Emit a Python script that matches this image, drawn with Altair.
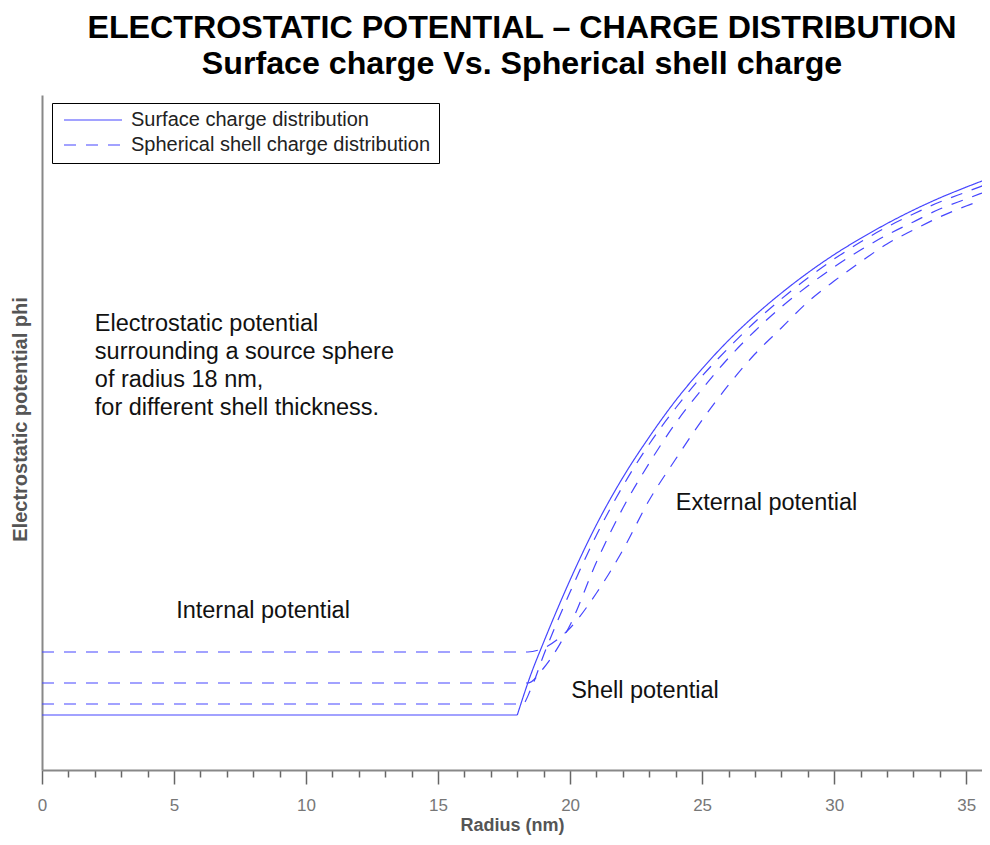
import altair as alt
import pandas as pd

FONT = "Liberation Sans"
BLUE = "#4646ff"
LABEL_SURF = "Surface charge distribution"
LABEL_SHELL = "Spherical shell charge distribution"

# Surface charge (solid): internal flat part and external part
r_surface_in = [0, 18]
phi_surface_in = [8.15, 8.15]
r_surface_out = [18, 18.5, 19, 20, 21, 22, 23, 24, 25, 26, 27, 28, 29, 30, 31, 32, 33, 34, 35, 36]
phi_surface_out = [8.15, 14.0, 18.95, 28.15, 36.35, 43.35, 49.35, 54.75, 59.45, 63.65, 67.35,
                   70.65, 73.65, 76.35, 78.75, 80.95, 82.95, 84.75, 86.35, 87.85]

# Spherical shell charge (dashed), three shell thicknesses
r_shell_a = [0, 18.2, 18.5, 19, 20, 21, 22, 23, 24, 25, 26, 27, 28, 29, 30, 31, 32, 33, 34, 35, 36]
phi_shell_a = [9.78, 9.78, 11.85, 17.04, 26.37, 34.81, 42.07, 48.30, 53.63, 58.37, 62.52, 66.37,
               69.78, 72.89, 75.70, 78.22, 80.44, 82.37, 84.15, 85.63, 87.11]
r_shell_b = [0, 18.4, 19, 20, 21, 22, 23, 24, 25, 26, 27, 28, 29, 30, 31, 32, 33, 34, 35, 36]
phi_shell_b = [12.89, 12.89, 15.11, 21.48, 30.81, 38.81, 45.48, 51.41, 56.44, 61.04, 65.04,
               68.59, 71.70, 74.52, 77.04, 79.26, 81.19, 83.11, 84.59, 86.07]
r_shell_c = [0, 18.4, 19, 20, 21, 22, 23, 24, 25, 26, 27, 28, 29, 30, 31, 32, 33, 34, 35, 36]
phi_shell_c = [17.48, 17.48, 18.07, 21.04, 26.22, 32.59, 40.00, 46.07, 51.85, 57.04, 61.63,
               65.48, 69.33, 72.44, 75.26, 77.93, 80.00, 81.93, 83.56, 84.89]

rows = []
def add(key, dist, rs, ps):
    for r, p in zip(rs, ps):
        rows.append({"key": key, "dist": dist, "r": r, "phi": p})

add("surf_in", LABEL_SURF, r_surface_in, phi_surface_in)
add("surf_out", LABEL_SURF, r_surface_out, phi_surface_out)
add("shell_a", LABEL_SHELL, r_shell_a, phi_shell_a)
add("shell_b", LABEL_SHELL, r_shell_b, phi_shell_b)
add("shell_c", LABEL_SHELL, r_shell_c, phi_shell_c)
df = pd.DataFrame(rows)

ann_text = ["Internal potential", "External potential", "Shell potential"]
ann_r = [5.08, 24.0, 20.04]
ann_phi = [22.5, 38.5, 10.7]
ann_df = pd.DataFrame({"text": ann_text, "r": ann_r, "phi": ann_phi})

note_text = ["Electrostatic potential\nsurrounding a source sphere\nof radius 18 nm,\nfor different shell thickness."]
note_df = pd.DataFrame({"text": note_text, "r": [2.0], "phi": [65.0]})

# visible part of the radius axis (the plot runs on past the right edge)
xscale = alt.Scale(domain=[0, 35.6], nice=False, zero=False)
yscale = alt.Scale(domain=[0, 100], nice=False, zero=False)

x_axis = alt.Axis(
    values=list(range(36)),
    labelExpr="datum.value % 5 === 0 ? datum.label : ''",
    tickSize={"condition": {"test": "datum.value % 5 === 0", "value": 14}, "value": 7},
    tickColor="#666", tickWidth=1.5,
    domainColor="#888", domainWidth=2,
    labelFontSize=17, labelColor="#777", labelFont=FONT, labelPadding=13,
    labelOverlap=False, labelFlush=False,
    grid=False,
    title="Radius (nm)", titleFontSize=18, titleFontWeight="bold", titleColor="#555",
    titleFont=FONT, titlePadding=3,
)
y_axis = alt.Axis(
    ticks=False, labels=False, grid=False,
    domainColor="#888", domainWidth=2,
    title="Electrostatic potential phi", titleFontSize=20, titleFontWeight="bold",
    titleColor="#555", titleFont=FONT, titlePadding=12, titleY=324,
)

x_enc = alt.X("r:Q", scale=xscale, axis=x_axis)
y_enc = alt.Y("phi:Q", scale=yscale, axis=y_axis)

lines = alt.Chart(df).mark_line(interpolate="monotone", clip=True, color=BLUE, strokeWidth=1.2).encode(
    x=x_enc,
    y=y_enc,
    strokeDash=alt.StrokeDash(
        "dist:N",
        scale=alt.Scale(domain=[LABEL_SURF, LABEL_SHELL], range=[[1, 0], [12, 10]]),
        legend=alt.Legend(
            title=None, orient="none", legendX=10, legendY=8,
            strokeColor="black", fillColor="white", padding=8,
            symbolType="stroke", symbolSize=3364, symbolStrokeWidth=1.2,
            symbolStrokeColor=BLUE, symbolOffset=3, clipHeight=18, rowPadding=5,
            labelOffset=8, labelFontSize=20, labelFont=FONT, labelColor="#222",
            labelLimit=0,
        ),
    ),
    detail="key:N",
)

ann = alt.Chart(ann_df).mark_text(align="left", baseline="alphabetic", font=FONT, fontSize=23.5, color="#111").encode(
    x=x_enc, y=y_enc, text="text:N"
)
note = alt.Chart(note_df).mark_text(align="left", baseline="alphabetic", font=FONT, fontSize=23.5,
                                    color="#111", lineBreak="\n", lineHeight=28).encode(
    x=x_enc, y=y_enc, text="text:N"
)

chart = alt.layer(lines, ann, note).properties(
    width=940, height=675,
    title=alt.TitleParams(
        text=["ELECTROSTATIC POTENTIAL \u2013 CHARGE DISTRIBUTION", "Surface charge Vs. Spherical shell charge"],
        fontSize=32.2, lineHeight=35.5, font=FONT, fontWeight="bold", color="black",
        anchor="middle", offset=14, dx=10,
    ),
    autosize=alt.AutoSizeParams(type="none"),
    padding={"left": 34, "top": 87, "right": 0, "bottom": 67},
    background="white",
).configure_view(stroke=None)

chart.save("out.html", embed_options={"renderer": "svg", "actions": False})
